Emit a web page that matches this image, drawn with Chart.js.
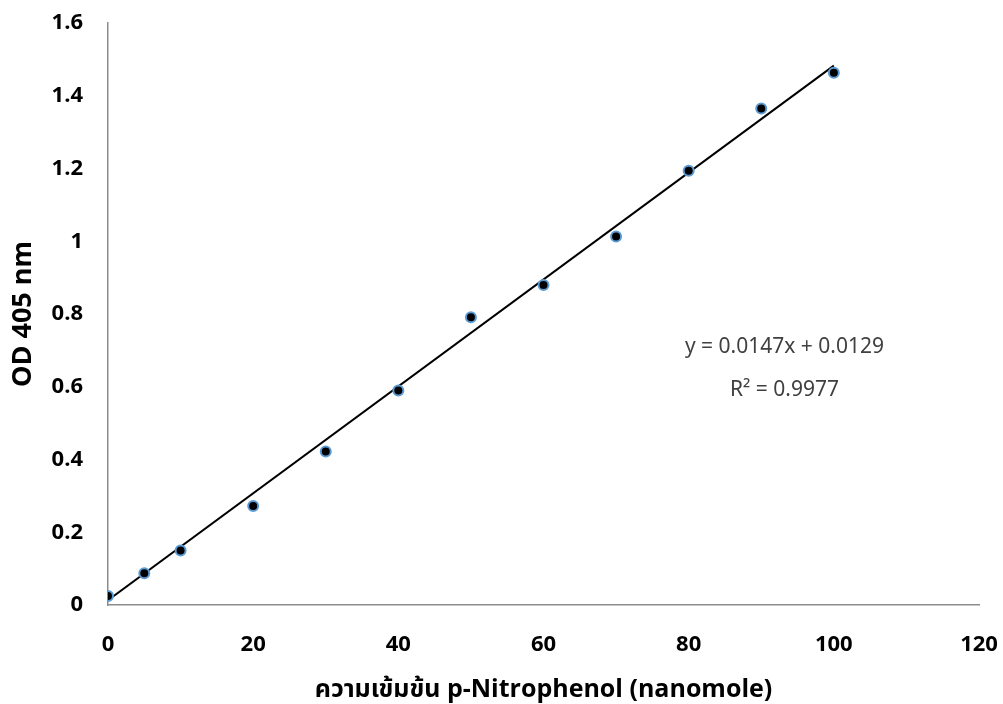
<!DOCTYPE html>
<html>
<head>
<meta charset="utf-8">
<style>
  html, body { margin: 0; padding: 0; background: #ffffff; }
  #wrap { width: 1003px; height: 704px; }
</style>
<script src="https://cdn.jsdelivr.net/npm/chart.js@4.4.1/dist/chart.umd.min.js"></script>
</head>
<body>
<div id="wrap"><canvas id="c" width="1003" height="704"></canvas></div>
<script>
const concentrations = [0, 5, 10, 20, 30, 40, 50, 60, 70, 80, 90, 100];
const odValues = [0.025, 0.087, 0.150, 0.272, 0.422, 0.590, 0.791, 0.880, 1.013, 1.194, 1.365, 1.463];
const trendSlope = 0.0147;
const trendIntercept = 0.0129;
const trendRange = [0, 100];
const xTitle = 'ความเข้มข้น p-Nitrophenol (nanomole)';
const yTitle = 'OD 405 nm';
const equationLines = ['y = 0.0147x + 0.0129', 'R² = 0.9977'];

const points = concentrations.map((x, i) => ({ x: x, y: odValues[i] }));
const trend = trendRange.map(x => ({ x: x, y: trendSlope * x + trendIntercept }));

const tickFont = { family: '"Open Sans", "Noto Sans", sans-serif', size: 22, weight: 'bold' };
const xTitleFont = { family: '"Open Sans", "Noto Sans", "Noto Sans Thai", sans-serif', size: 25, weight: 'bold', lineHeight: 1.1 };
const yTitleFont = { family: '"Open Sans", "Noto Sans", sans-serif', size: 27, weight: 'bold', lineHeight: 1.2 };

const equationPlugin = {
  id: 'equation',
  afterDatasetsDraw(chart) {
    const { ctx, scales } = chart;
    ctx.save();
    ctx.fillStyle = '#404040';
    ctx.font = '21px "Noto Sans", sans-serif';
    ctx.textAlign = 'center';
    ctx.textBaseline = 'middle';
    const cx = scales.x.getPixelForValue(93.2);
    ctx.fillText(equationLines[0], cx, scales.y.getPixelForValue(0.709));
    ctx.fillText(equationLines[1], cx, scales.y.getPixelForValue(0.591));
    ctx.restore();
  }
};

new Chart(document.getElementById('c'), {
  type: 'scatter',
  data: {
    datasets: [
      {
        type: 'line',
        label: 'trend',
        data: trend,
        borderColor: '#000000',
        borderWidth: 2,
        pointRadius: 0,
        fill: false,
        order: 2
      },
      {
        label: 'OD',
        data: points,
        backgroundColor: '#000000',
        borderColor: '#5b9bd5',
        borderWidth: 2,
        pointRadius: 5,
        order: 1
      }
    ]
  },
  options: {
    responsive: false,
    animation: false,
    devicePixelRatio: 1,
    layout: { padding: { left: 0, right: 24, top: 23, bottom: 0 } },
    plugins: {
      legend: { display: false },
      tooltip: { enabled: false }
    },
    scales: {
      x: {
        type: 'linear',
        min: 0,
        max: 120,
        ticks: { stepSize: 20, color: '#000000', font: tickFont, padding: 0, maxRotation: 0 },
        grid: { display: false, drawTicks: true, tickLength: 27, tickColor: 'rgba(0,0,0,0)' },
        border: { display: true, color: '#8c8c8c', width: 1.5 },
        title: { display: true, text: xTitle, color: '#000000', font: xTitleFont, padding: { top: 0, bottom: 0 } },
        afterFit(scale) { scale.height = 99; }
      },
      y: {
        type: 'linear',
        min: 0,
        max: 1.6,
        ticks: { stepSize: 0.2, color: '#000000', font: tickFont, padding: 0,
          callback: v => String(Math.round(v * 10) / 10) },
        grid: { display: false, drawTicks: true, tickLength: 25, tickColor: 'rgba(0,0,0,0)' },
        border: { display: true, color: '#8c8c8c', width: 1.5 },
        title: { display: true, text: yTitle, color: '#000000', font: yTitleFont, padding: { top: 7, bottom: 0 } },
        afterFit(scale) { scale.width = 108; }
      }
    }
  },
  plugins: [equationPlugin]
});
</script>
</body>
</html>
